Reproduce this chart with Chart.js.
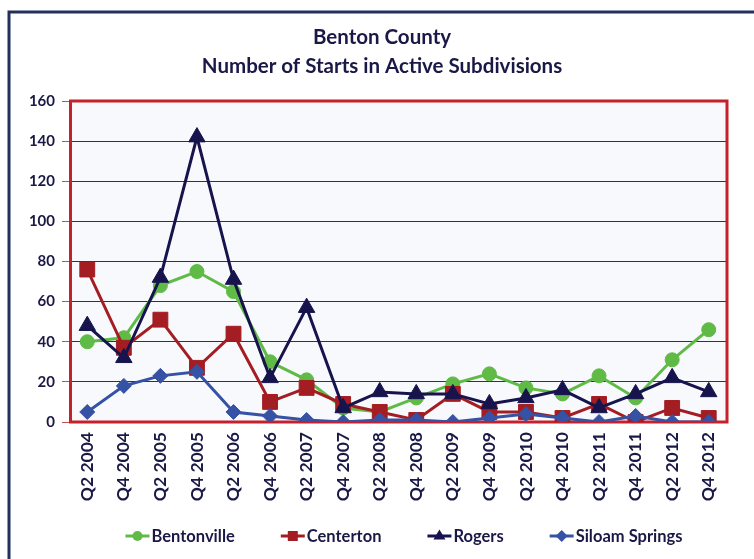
<!DOCTYPE html>
<html>
<head>
<meta charset="utf-8">
<script src="https://cdn.jsdelivr.net/npm/chart.js@4"></script>
<style>
  html, body { margin: 0; padding: 0; background: #fff; }
  #wrap { width: 754px; height: 559px; }
</style>
</head>
<body>
<div id="wrap"><canvas id="chart" width="754" height="559"></canvas></div>
<script>
// data
const quarters = ['Q2 2004','Q4 2004','Q2 2005','Q4 2005','Q2 2006','Q4 2006','Q2 2007','Q4 2007','Q2 2008',
                  'Q4 2008','Q2 2009','Q4 2009','Q2 2010','Q4 2010','Q2 2011','Q4 2011','Q2 2012','Q4 2012'];
const bentonville = [40, 42, 68, 75, 65, 30, 21, 7, 5, 12, 19, 24, 17, 14, 23, 12, 31, 46];
const centerton   = [76, 37, 51, 27, 44, 10, 17, 9, 5, 1, 14, 5, 5, 2, 9, 0, 7, 2];
const rogers      = [48, 32, 72, 142, 71, 22, 57, 7, 15, 14, 14, 9, 12, 16, 7, 14, 22, 15];
const siloam      = [5, 18, 23, 25, 5, 3, 1, 0, 1, 1, 0, 2, 4, 2, 0, 3, 0, 0];
const yTicks = [0, 20, 40, 60, 80, 100, 120, 140, 160];
const titleLines = ['Benton County', 'Number of Starts in Active Subdivisions'];

const NAVY_TEXT = '#1a1846';
const FONT = 'Lato';

function drawMarker(ctx, style, x, y, r, color) {
  ctx.fillStyle = color;
  ctx.beginPath();
  if (style === 'circle') {
    ctx.arc(x, y, r, 0, Math.PI * 2);
  } else if (style === 'rect') {
    ctx.rect(x - r, y - r, 2 * r, 2 * r);
  } else if (style === 'triangle') {
    ctx.moveTo(x, y - r * 1.1);
    ctx.lineTo(x + r, y + r * 0.6);
    ctx.lineTo(x - r, y + r * 0.6);
    ctx.closePath();
  } else {
    ctx.moveTo(x, y - r); ctx.lineTo(x + r, y); ctx.lineTo(x, y + r); ctx.lineTo(x - r, y);
    ctx.closePath();
  }
  ctx.fill();
}

const frame = {
  id: 'frame',
  beforeDraw(chart) {
    const { ctx, chartArea: a } = chart;
    ctx.save();
    ctx.fillStyle = '#fff';
    ctx.fillRect(0, 0, chart.width, chart.height);
    ctx.strokeStyle = '#22305e';
    ctx.lineWidth = 3;
    ctx.beginPath();
    ctx.moveTo(9, chart.height);
    ctx.lineTo(9, 12);
    ctx.lineTo(chart.width, 12);
    ctx.stroke();
    ctx.fillStyle = '#f7f9fd';
    ctx.fillRect(a.left, a.top, a.right - a.left, a.bottom - a.top);
    ctx.restore();
  },
  beforeDatasetsDraw(chart) {
    const { ctx, chartArea: a } = chart;
    ctx.save();
    ctx.strokeStyle = '#c4212c';
    ctx.lineWidth = 3;
    ctx.strokeRect(a.left + 1.5, a.top, a.right - a.left - 1.5, a.bottom - a.top);
    ctx.restore();
  },
  afterDraw(chart) {
    const { ctx } = chart;
    ctx.save();
    // title
    ctx.fillStyle = NAVY_TEXT;
    ctx.font = `bold 20.5px ${FONT}`;
    ctx.textAlign = 'center';
    ctx.textBaseline = 'middle';
    ctx.fillText(titleLines[0], 382, 37);
    ctx.fillText(titleLines[1], 382, 66);
    // legend
    ctx.font = `bold 16.5px ${FONT}`;
    ctx.textAlign = 'left';
    const items = chart.data.datasets.map(d => ({
      label: d.label, color: d.borderColor, style: d.pointStyle, w: ctx.measureText(d.label).width
    }));
    const symW = 24, gap = 2, between = 46;
    const total = items.reduce((s, it) => s + symW + gap + it.w, 0) + between * (items.length - 1);
    let x = 404 - total / 2;
    const y = 536;
    const sizes = { circle: 5, rect: 5, triangle: 6, rectRot: 6 };
    items.forEach(it => {
      ctx.strokeStyle = it.color;
      ctx.lineWidth = 3;
      ctx.beginPath();
      ctx.moveTo(x, y); ctx.lineTo(x + symW, y);
      ctx.stroke();
      drawMarker(ctx, it.style, x + symW / 2, y, sizes[it.style], it.color);
      ctx.fillStyle = NAVY_TEXT;
      ctx.fillText(it.label, x + symW + gap, y + 1);
      x += symW + gap + it.w + between;
    });
    ctx.restore();
  }
};

function series(label, data, color, style, radius, order) {
  return {
    label, data, order,
    borderColor: color, backgroundColor: color,
    borderWidth: 3, tension: 0,
    pointStyle: style, pointRadius: radius, pointHoverRadius: radius,
    pointBorderWidth: 1, pointBorderColor: color, pointBackgroundColor: color
  };
}

new Chart(document.getElementById('chart'), {
  type: 'line',
  data: {
    labels: quarters,
    datasets: [
      series('Bentonville', bentonville, '#5fba46', 'circle', 7, 4),
      series('Centerton', centerton, '#a31d22', 'rect', 10.5, 3),
      series('Rogers', rogers, '#17144d', 'triangle', 9.5, 2),
      series('Siloam Springs', siloam, '#3652a4', 'rectRot', 7.5, 1)
    ]
  },
  options: {
    responsive: false,
    animation: false,
    layout: { padding: { top: 101, right: 27, left: 0, bottom: 50 } },
    plugins: { legend: { display: false }, title: { display: false }, tooltip: { enabled: false } },
    scales: {
      x: {
        offset: true,
        grid: { display: false, drawTicks: false },
        border: { display: false },
        ticks: {
          autoSkip: false, minRotation: 90, maxRotation: 90, padding: 10,
          color: NAVY_TEXT, font: { family: FONT, size: 17.5, weight: 'bold' }
        },
        afterFit(scale) { scale.height = 559 - 50 - 422; }
      },
      y: {
        min: 0, max: 160,
        afterBuildTicks(scale) { scale.ticks = yTicks.map(v => ({ value: v })); },
        grid: { color: '#333', lineWidth: 1, tickLength: 7, tickColor: '#c0505a' },
        border: { display: false },
        ticks: { padding: 7, color: NAVY_TEXT, font: { family: FONT, size: 15, weight: 'bold' } },
        afterFit(scale) { scale.width = 69; }
      }
    }
  },
  plugins: [frame]
});
</script>
</body>
</html>
